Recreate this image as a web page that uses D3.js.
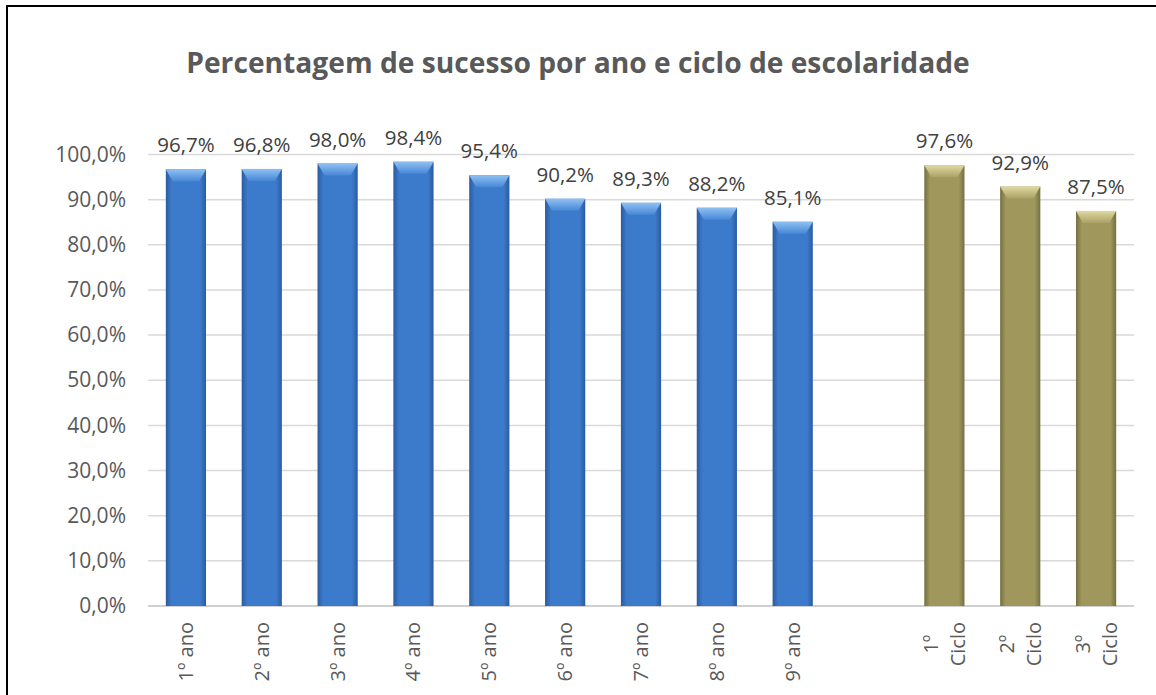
<!DOCTYPE html>
<html lang="pt">
<head>
    <meta charset="UTF-8">
    <title>Percentagem de sucesso</title>
    <script src="https://cdnjs.cloudflare.com/ajax/libs/d3/7.8.5/d3.min.js"></script>
    <style>
        body { margin: 0; background: #fff; }
        text { font-family: "Open Sans", sans-serif; }
    </style>
</head>
<body>
    <div id="wrapper"></div>
    <script>
        // dados
        const categories = ['1º ano', '2º ano', '3º ano', '4º ano', '5º ano', '6º ano', '7º ano', '8º ano', '9º ano', '', '1º Ciclo', '2º Ciclo', '3º Ciclo']
        const values = [96.7, 96.8, 98.0, 98.4, 95.4, 90.2, 89.3, 88.2, 85.1, null, 97.6, 92.9, 87.5]
        const groups = ['ano', 'ano', 'ano', 'ano', 'ano', 'ano', 'ano', 'ano', 'ano', null, 'ciclo', 'ciclo', 'ciclo']
        const yTicks = [0, 10, 20, 30, 40, 50, 60, 70, 80, 90, 100]
        const title = 'Percentagem de sucesso por ano e ciclo de escolaridade'

        const dataset = categories.map((c, i) => ({ cat: c, value: values[i], group: groups[i], key: 'k' + i }))

        const dimensions = {
            width: 1156,
            height: 695,
            margin: { top: 154.5, right: 22, bottom: 89, left: 148 }
        }
        dimensions.boundedWidth = dimensions.width - dimensions.margin.left - dimensions.margin.right
        dimensions.boundedHeight = dimensions.height - dimensions.margin.top - dimensions.margin.bottom

        const fmt = v => d3.format('.1f')(v).replace('.', ',') + '%'

        const svg = d3.select('#wrapper').append('svg')
            .attr('width', dimensions.width)
            .attr('height', dimensions.height)

        // gradientes
        const defs = svg.append('defs')
        const palettes = {
            ano: { edge: '#2a5b9f', mid: '#3c7acb', bevelTop: '#8fc0f2', bevelBot: '#4787d6' },
            ciclo: { edge: '#737040', mid: '#9f975c', bevelTop: '#e0d9a0', bevelBot: '#a9a166' }
        }
        Object.entries(palettes).forEach(([k, p]) => {
            const g = defs.append('linearGradient').attr('id', 'body-' + k)
                .attr('x1', 0).attr('x2', 1).attr('y1', 0).attr('y2', 0)
            g.append('stop').attr('offset', '0%').attr('stop-color', p.edge)
            g.append('stop').attr('offset', '14%').attr('stop-color', p.mid)
            g.append('stop').attr('offset', '86%').attr('stop-color', p.mid)
            g.append('stop').attr('offset', '100%').attr('stop-color', p.edge)
            const b = defs.append('linearGradient').attr('id', 'bevel-' + k)
                .attr('x1', 0).attr('x2', 0).attr('y1', 0).attr('y2', 1)
            b.append('stop').attr('offset', '0%').attr('stop-color', p.bevelTop)
            b.append('stop').attr('offset', '100%').attr('stop-color', p.bevelBot)
        })

        // moldura
        svg.append('path')
            .attr('d', `M7,${dimensions.height} L7,6 L${dimensions.width},6`)
            .attr('fill', 'none')
            .attr('stroke', '#000')
            .attr('stroke-width', 2)

        svg.append('text')
            .attr('x', 578)
            .attr('y', 73)
            .attr('text-anchor', 'middle')
            .attr('font-size', 28.2)
            .attr('font-weight', 'bold')
            .attr('fill', '#595959')
            .text(title)

        const bounds = svg.append('g')
            .attr('transform', `translate(${dimensions.margin.left},${dimensions.margin.top})`)

        const xScale = d3.scaleBand()
            .domain(dataset.map(d => d.key))
            .range([0, dimensions.boundedWidth])
            .paddingInner(0.47)
            .paddingOuter(0.235)

        const yScale = d3.scaleLinear()
            .domain([0, 100])
            .range([dimensions.boundedHeight, 0])

        // grelha
        bounds.append('g')
            .selectAll('line')
            .data(yTicks)
            .join('line')
                .attr('x1', 0)
                .attr('x2', dimensions.boundedWidth)
                .attr('y1', d => yScale(d))
                .attr('y2', d => yScale(d))
                .attr('stroke', d => d === 0 ? '#d0d0d0' : '#d9d9d9')
                .attr('stroke-width', d => d === 0 ? 2 : 1.5)

        // eixo y
        const yAxis = bounds.append('g')
            .call(d3.axisLeft(yScale).tickValues(yTicks).tickFormat(fmt).tickSize(0).tickPadding(22))
        yAxis.select('.domain').remove()
        yAxis.selectAll('text')
            .attr('font-size', 21)
            .attr('fill', '#595959')
            .attr('font-family', '"Open Sans", sans-serif')

        // barras
        const barData = dataset.filter(d => d.value != null)
        const bars = bounds.append('g').selectAll('g')
            .data(barData)
            .join('g')

        bars.append('rect')
            .attr('x', d => xScale(d.key))
            .attr('y', d => yScale(d.value))
            .attr('width', xScale.bandwidth())
            .attr('height', d => dimensions.boundedHeight - yScale(d.value))
            .attr('fill', d => `url(#body-${d.group})`)

        const bevel = 12
        const inset = 7
        bars.append('path')
            .attr('d', d => {
                const x0 = xScale(d.key), x1 = x0 + xScale.bandwidth(), y0 = yScale(d.value)
                return `M${x0},${y0} L${x1},${y0} L${x1 - inset},${y0 + bevel} L${x0 + inset},${y0 + bevel} Z`
            })
            .attr('fill', d => `url(#bevel-${d.group})`)

        // rótulos de dados
        bars.append('text')
            .attr('x', d => xScale(d.key) + xScale.bandwidth() / 2)
            .attr('y', d => yScale(d.value) - 17)
            .attr('text-anchor', 'middle')
            .attr('font-size', 20.5)
            .attr('fill', '#404040')
            .text(d => fmt(d.value))

        // eixo x (rótulos rodados)
        const labelTop = dimensions.boundedHeight + 16
        const xLabels = bounds.append('g').selectAll('text')
            .data(dataset.filter(d => d.cat))
            .join('text')
                .attr('font-size', 20)
                .attr('fill', '#595959')
                .attr('text-anchor', 'middle')

        xLabels.each(function (d) {
            const el = d3.select(this)
            const lines = d.group === 'ciclo' ? d.cat.split(' ') : [d.cat]
            const cx = xScale(d.key) + xScale.bandwidth() / 2
            const spacing = 27
            lines.forEach((ln, i) => {
                el.append('tspan')
                    .attr('x', 0)
                    .attr('y', (i - (lines.length - 1) / 2) * spacing)
                    .attr('dy', '0.35em')
                    .text(ln)
            })
            let maxLen = 0
            el.selectAll('tspan').each(function () {
                maxLen = Math.max(maxLen, this.getComputedTextLength())
            })
            el.attr('transform', `translate(${cx},${labelTop + maxLen / 2}) rotate(-90)`)
        })
    </script>
</body>
</html>
